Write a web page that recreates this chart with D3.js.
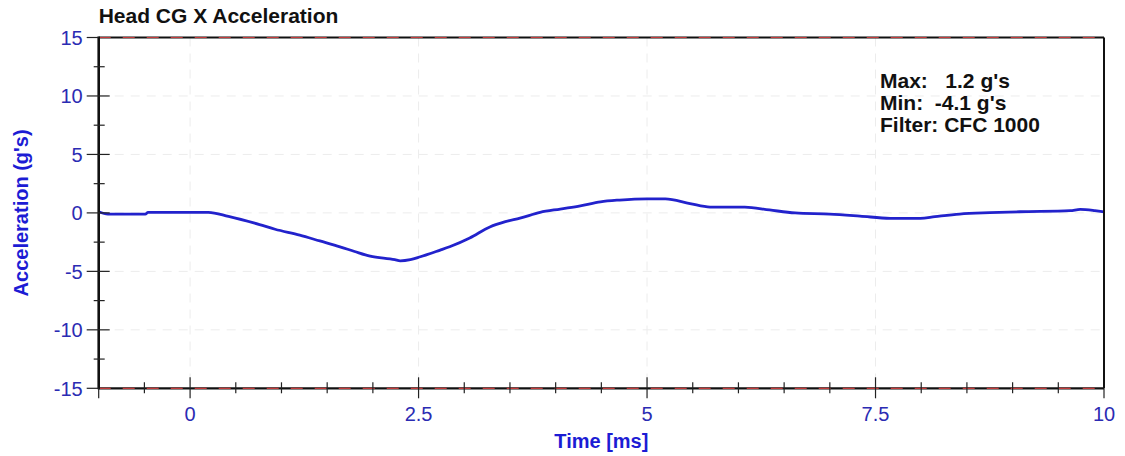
<!DOCTYPE html>
<html>
<head>
    <meta charset="utf-8">
    <title>Head CG X Acceleration</title>
    <script src="https://d3js.org/d3.v7.min.js"></script>
    <style>
        body {
            margin: 0;
            background: #fff;
        }

        svg text {
            font-family: "Liberation Sans", Arial, sans-serif;
        }

        .grid line {
            stroke: #ececec;
            stroke-width: 1px;
            stroke-dasharray: 9, 7;
        }

        .tick-label {
            font-size: 20px;
            fill: #2b2bb3;
        }

        .axis-title {
            font-size: 20px;
            font-weight: bold;
            fill: #1c1cd4;
        }

        .info text {
            font-size: 21px;
            font-weight: bold;
            fill: #111;
        }
    </style>
</head>
<body>
<svg width="1125" height="456"></svg>
<script>
    // time in ms, acceleration in g's
    var timeMs = [-1.0, -0.9, -0.49, -0.46, 0.2, 0.42, 0.76, 0.93, 1.2, 1.42, 1.64, 1.8, 1.97,
        2.24, 2.3, 2.41, 2.52, 2.73, 2.84, 3.06, 3.28, 3.45, 3.61, 3.83, 4.05, 4.27, 4.49, 4.7,
        5.0, 5.2, 5.47, 5.69, 6.07, 6.34, 6.62, 7.0, 7.33, 7.66, 7.99, 8.15, 8.42, 8.75,
        9.08, 9.63, 9.74, 9.9, 10.0];
    var accelG = [0.1, -0.1, -0.1, 0.05, 0.05, -0.3, -1.0, -1.4, -1.9, -2.4, -2.9, -3.3, -3.7,
        -4.0, -4.1, -4.0, -3.75, -3.2, -2.9, -2.15, -1.2, -0.75, -0.45, 0.05, 0.33, 0.6, 0.95, 1.1,
        1.2, 1.2, 0.8, 0.5, 0.5, 0.25, 0.0, -0.1, -0.27, -0.46, -0.46, -0.32, -0.1, 0.02,
        0.1, 0.19, 0.3, 0.19, 0.08];

    var xTicks = [0, 2.5, 5, 7.5, 10];
    var yTicks = [15, 10, 5, 0, -5, -10, -15];
    var xMinor = d3.range(-1, 10.01, 0.5);
    var yMinor = [12.5, 7.5, 2.5, -2.5, -7.5, -12.5];
    var infoLines = ["Max:   1.2 g's", "Min:  -4.1 g's", "Filter: CFC 1000"];

    var svg = d3.select("svg"),
        pLeft = 98.7, pRight = 1104, pTop = 37.5, pBottom = 388.3;

    var x = d3.scaleLinear().domain([-1, 10]).range([pLeft, pRight]);
    var y = d3.scaleLinear().domain([-15, 15]).range([pBottom, pTop]);

    // grid
    var grid = svg.append("g").attr("class", "grid");
    grid.selectAll(".gy")
        .data(yTicks.filter(function (d) { return d > -15 && d < 15; }))
        .enter().append("line")
        .attr("x1", pLeft).attr("x2", pRight)
        .attr("y1", function (d) { return y(d); })
        .attr("y2", function (d) { return y(d); });
    grid.selectAll(".gx")
        .data(xTicks.filter(function (d) { return d < 10; }))
        .enter().append("line")
        .attr("y1", pTop).attr("y2", pBottom)
        .attr("x1", function (d) { return x(d); })
        .attr("x2", function (d) { return x(d); });

    // data line
    var line = d3.line()
        .x(function (d) { return x(d[0]); })
        .y(function (d) { return y(d[1]); })
        .curve(d3.curveMonotoneX);

    svg.append("path")
        .datum(timeMs.map(function (t, i) { return [t, accelG[i]]; }))
        .attr("fill", "none")
        .attr("stroke", "#2222cc")
        .attr("stroke-width", 2.8)
        .attr("stroke-linejoin", "round")
        .attr("d", line);

    // frame
    svg.append("line").attr("x1", pRight).attr("x2", pRight).attr("y1", pTop).attr("y2", pBottom)
        .attr("stroke", "#111").attr("stroke-width", 2);
    [pTop, pBottom].forEach(function (yy) {
        svg.append("line").attr("x1", pLeft).attr("x2", pRight).attr("y1", yy).attr("y2", yy)
            .attr("stroke", "#111").attr("stroke-width", 2.2);
        svg.append("line").attr("x1", pLeft).attr("x2", pRight).attr("y1", yy).attr("y2", yy)
            .attr("stroke", "#c23a3a").attr("stroke-width", 1.2)
            .attr("stroke-dasharray", "12,12");
    });
    svg.append("line").attr("x1", pLeft).attr("x2", pLeft).attr("y1", pTop - 1).attr("y2", pBottom + 1)
        .attr("stroke", "#111").attr("stroke-width", 2.6);

    // y ticks
    svg.selectAll(".ymaj")
        .data(yTicks)
        .enter().append("line")
        .attr("x1", pLeft - 12)
        .attr("x2", function (d) { return (d === 15 || d === -15) ? pLeft : pLeft + 11; })
        .attr("y1", function (d) { return y(d); })
        .attr("y2", function (d) { return y(d); })
        .attr("stroke", "#222").attr("stroke-width", 1.2);
    svg.selectAll(".ymin")
        .data(yMinor)
        .enter().append("line")
        .attr("x1", pLeft - 5).attr("x2", pLeft + 6)
        .attr("y1", function (d) { return y(d); })
        .attr("y2", function (d) { return y(d); })
        .attr("stroke", "#222").attr("stroke-width", 1.2);
    svg.selectAll(".ylab")
        .data(yTicks)
        .enter().append("text")
        .attr("class", "tick-label")
        .attr("x", pLeft - 16)
        .attr("y", function (d) { return y(d); })
        .attr("dy", "0.36em")
        .attr("text-anchor", "end")
        .text(function (d) { return d; });

    // x ticks
    svg.selectAll(".xmin")
        .data(xMinor.filter(function (d) { return xTicks.indexOf(d) < 0 && d > -1; }))
        .enter().append("line")
        .attr("x1", function (d) { return x(d); })
        .attr("x2", function (d) { return x(d); })
        .attr("y1", pBottom - 6).attr("y2", pBottom + 5)
        .attr("stroke", "#222").attr("stroke-width", 1.2);
    svg.selectAll(".xmaj")
        .data(xTicks)
        .enter().append("line")
        .attr("x1", function (d) { return x(d); })
        .attr("x2", function (d) { return x(d); })
        .attr("y1", function (d) { return d === 10 ? pBottom : pBottom - 11; })
        .attr("y2", pBottom + 10)
        .attr("stroke", "#222").attr("stroke-width", 1.2);
    svg.append("line")
        .attr("x1", pLeft).attr("x2", pLeft).attr("y1", pBottom).attr("y2", pBottom + 10)
        .attr("stroke", "#222").attr("stroke-width", 1.2);
    svg.selectAll(".xlab")
        .data(xTicks)
        .enter().append("text")
        .attr("class", "tick-label")
        .attr("x", function (d) { return x(d); })
        .attr("y", 421)
        .attr("text-anchor", "middle")
        .text(function (d) { return d; });

    // titles
    svg.append("text")
        .attr("x", pLeft).attr("y", 23)
        .attr("font-size", "21px").attr("font-weight", "bold").attr("fill", "#111")
        .text("Head CG X Acceleration");

    svg.append("text")
        .attr("class", "axis-title")
        .attr("x", (pLeft + pRight) / 2).attr("y", 448)
        .attr("text-anchor", "middle")
        .text("Time [ms]");

    svg.append("text")
        .attr("class", "axis-title")
        .attr("transform", "translate(28," + y(0) + ") rotate(-90)")
        .attr("text-anchor", "middle")
        .text("Acceleration (g's)");

    // info box
    svg.append("g").attr("class", "info")
        .selectAll("text")
        .data(infoLines)
        .enter().append("text")
        .attr("x", 880)
        .attr("y", function (d, i) { return 88 + i * 22; })
        .attr("xml:space", "preserve")
        .style("white-space", "pre")
        .text(function (d) { return d; });
</script>
</body>
</html>
